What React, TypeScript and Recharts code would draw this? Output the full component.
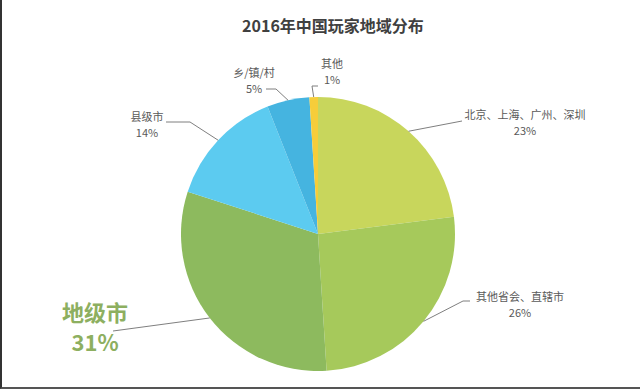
import { PieChart, Pie, Cell } from "recharts";

const regions = ["北京、上海、广州、深圳", "其他省会、直辖市", "地级市", "县级市", "乡/镇/村", "其他"];
const shares = [23, 26, 31, 14, 5, 1];
const colors = ["#c8d65c", "#a6c95b", "#8dba5e", "#5ccbf0", "#45b4e0", "#f6cd3a"];

const data = regions.map((name, i) => ({ name, value: shares[i] }));

// leader line bends and text spots for each slice label
const labelLayout = [
  { path: [[462, 121]], tx: 525, ty: [114, 130], big: false },
  { path: [[463, 301], [470, 301]], tx: 520, ty: [296, 312], big: false },
  { path: [[113, 331]], tx: 95, ty: [311, 341], big: true },
  { path: [[190, 122], [166, 122]], tx: 147, ty: [116, 132], big: false },
  { path: [[276, 89], [266, 89]], tx: 254, ty: [72, 88], big: false },
  { path: [[312, 86], [318, 86]], tx: 332, ty: [63, 79], big: false },
];

const RAD = Math.PI / 180;

function renderLabel(props: any) {
  const { cx, cy, midAngle, outerRadius, index, name, value } = props;
  const lay = labelLayout[index];
  const sx = cx + outerRadius * Math.cos(-midAngle * RAD);
  let sy = cy + outerRadius * Math.sin(-midAngle * RAD);
  if (index === 5) sy = cy - outerRadius;
  const pts = [[sx, sy], ...lay.path].map((p) => p.join(",")).join(" ");
  const color = lay.big ? "#8daf60" : "#595959";
  const size = lay.big ? 22 : 11;
  return (
    <g>
      <polyline points={pts} fill="none" stroke="#7f7f7f" strokeWidth={1} />
      <text
        x={lay.tx}
        y={lay.ty[0]}
        textAnchor="middle"
        dominantBaseline="central"
        fill={color}
        fontSize={size}
        fontWeight={lay.big ? 700 : 400}
      >
        {name}
      </text>
      <text
        x={lay.tx}
        y={lay.ty[1]}
        textAnchor="middle"
        dominantBaseline="central"
        fill={color}
        fontSize={size}
        fontWeight={lay.big ? 700 : 400}
      >
        {value}%
      </text>
    </g>
  );
}

export default function App() {
  return (
    <div
      style={{
        position: "absolute",
        left: 0,
        top: 0,
        width: 640,
        height: 389,
        background: "#fff",
        fontFamily: "'Noto Sans CJK SC', 'Noto Sans', sans-serif",
        boxSizing: "border-box",
        borderLeft: "2px solid #333",
        borderBottom: "2px solid #555",
      }}
    >
      <PieChart
        width={640}
        height={387}
        margin={{ top: 0, right: 0, bottom: 0, left: 0 }}
        style={{ position: "absolute", left: -2, top: 0 }}
      >
        <text
          x={333}
          y={25}
          textAnchor="middle"
          dominantBaseline="central"
          fontSize={16}
          fontWeight={700}
          fill="#404040"
        >
          2016年中国玩家地域分布
        </text>
        <Pie
          data={data}
          dataKey="value"
          nameKey="name"
          cx={318}
          cy={234}
          outerRadius={137}
          startAngle={90}
          endAngle={-270}
          stroke="none"
          label={renderLabel}
          labelLine={false}
          isAnimationActive={false}
        >
          {data.map((d, i) => (
            <Cell key={d.name} fill={colors[i]} />
          ))}
        </Pie>
      </PieChart>
    </div>
  );
}
